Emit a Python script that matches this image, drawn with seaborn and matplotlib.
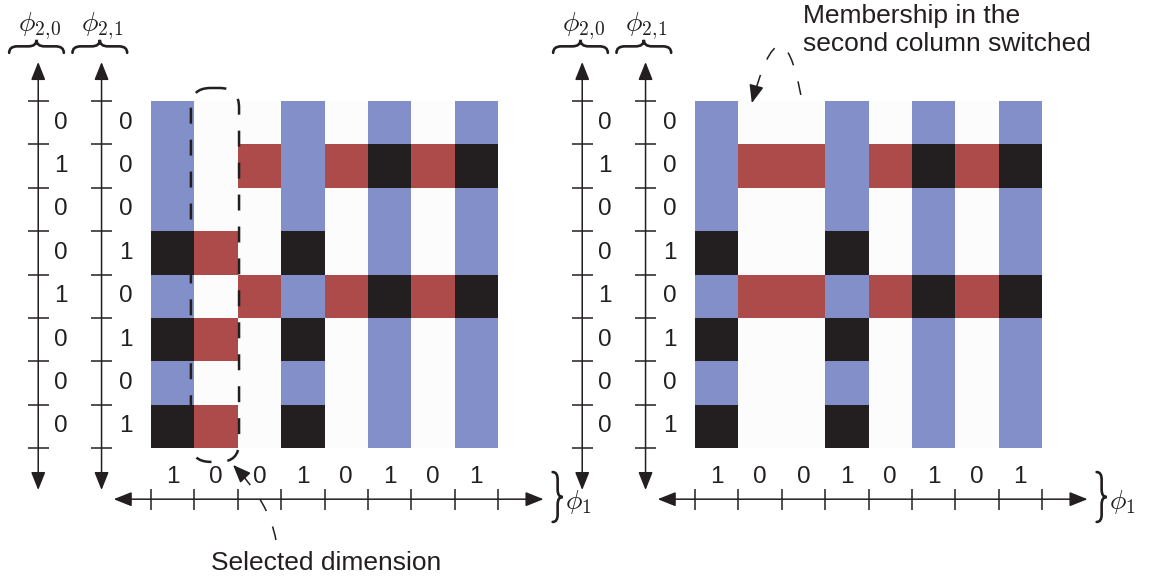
import numpy as np
import matplotlib
matplotlib.use('Agg')
import matplotlib.pyplot as plt
import seaborn as sns
from matplotlib.colors import ListedColormap
from matplotlib.patches import FancyArrowPatch, FancyBboxPatch, PathPatch
from matplotlib.path import Path

# labels along the axes
phi_1 = [1, 0, 0, 1, 0, 1, 0, 1]
phi_2_0 = [0, 1, 0, 0, 1, 0, 0, 0]
phi_2_1 = [0, 0, 0, 1, 0, 1, 0, 1]

# cell state: 0 = empty, 1 = column only, 2 = row only, 3 = both
grid_before = [
    [1, 0, 0, 1, 0, 1, 0, 1],
    [1, 0, 2, 1, 2, 3, 2, 3],
    [1, 0, 0, 1, 0, 1, 0, 1],
    [3, 2, 0, 3, 0, 1, 0, 1],
    [1, 0, 2, 1, 2, 3, 2, 3],
    [3, 2, 0, 3, 0, 1, 0, 1],
    [1, 0, 0, 1, 0, 1, 0, 1],
    [3, 2, 0, 3, 0, 1, 0, 1],
]
grid_after = [
    [1, 0, 0, 1, 0, 1, 0, 1],
    [1, 2, 2, 1, 2, 3, 2, 3],
    [1, 0, 0, 1, 0, 1, 0, 1],
    [3, 0, 0, 3, 0, 1, 0, 1],
    [1, 2, 2, 1, 2, 3, 2, 3],
    [3, 0, 0, 3, 0, 1, 0, 1],
    [1, 0, 0, 1, 0, 1, 0, 1],
    [3, 0, 0, 3, 0, 1, 0, 1],
]

cell_colors = ['#fcfcfc', '#828fc8', '#ad4a4a', '#231f20']
ink = '#231f20'

sns.set_style('white')
plt.rcParams['font.family'] = ['Liberation Sans', 'DejaVu Sans']
plt.rcParams['mathtext.fontset'] = 'cm'
plt.rcParams['lines.scale_dashes'] = False

fig = plt.figure(figsize=(11.49, 5.8), dpi=100)
ax_l = fig.add_axes([151 / 1149, 132 / 580, 347 / 1149, 347 / 580])
ax_r = fig.add_axes([695 / 1149, 132 / 580, 347 / 1149, 347 / 580])


def brace(ax, x, y, length, depth, horizontal):
    # curly brace, base midpoint at (x, y); tip up if horizontal, else tip right
    L, d = length, depth
    uv = [(-L / 2, 0), (-L / 2, d / 2), (-L / 2 + 0.15 * L, d / 2), (-0.15 * L, d / 2),
          (0, d / 2), (0, d), (0, d / 2), (0.15 * L, d / 2), (L / 2 - 0.15 * L, d / 2),
          (L / 2, d / 2), (L / 2, 0)]
    codes = [Path.MOVETO, Path.CURVE3, Path.CURVE3, Path.LINETO, Path.CURVE3, Path.CURVE3,
             Path.CURVE3, Path.CURVE3, Path.LINETO, Path.CURVE3, Path.CURVE3]
    if horizontal:
        verts = [(x + u, y - v) for u, v in uv]
    else:
        verts = [(x + v, y + u) for u, v in uv]
    ax.add_patch(PathPatch(Path(verts, codes), fill=False, ec=ink, lw=1.9,
                           capstyle='round', clip_on=False))


def curved_note(ax, p0, ctrl, tip):
    path = Path([p0, ctrl, tip], [Path.MOVETO, Path.CURVE3, Path.CURVE3])
    ax.add_patch(PathPatch(path, fill=False, ec=ink, lw=1.1,
                           linestyle=(0, (10, 12)), clip_on=False))
    d = np.array(tip) - np.array(ctrl)
    d = d / np.hypot(*d)
    start = np.array(tip) - 0.4 * d
    ax.add_patch(FancyArrowPatch(tuple(start), tip,
                                 arrowstyle='-|>,head_length=0.55,head_width=0.22',
                                 mutation_scale=20, lw=1.1, color=ink,
                                 shrinkA=0, shrinkB=0, clip_on=False))


def draw_panel(ax, grid):
    sns.heatmap(np.array(grid), ax=ax, cmap=ListedColormap(cell_colors), vmin=-0.5,
                vmax=3.5, cbar=False, square=True, xticklabels=False,
                yticklabels=False, linewidths=0)
    ax.set_axis_off()
    ax.set_xlim(0, 8)
    ax.set_ylim(8, 0)

    # vertical axes for phi_2,0 and phi_2,1
    for xa, xl, labels, name in [(-2.60, -2.07, phi_2_0, r'$\phi_{2,\!0}$'),
                                 (-1.14, -0.59, phi_2_1, r'$\phi_{2,\!1}$')]:
        ax.add_patch(FancyArrowPatch((xa, 8.97), (xa, -0.90),
                                     arrowstyle='<|-|>,head_length=0.55,head_width=0.22',
                                     mutation_scale=20, lw=1.1, color=ink,
                                     shrinkA=0, shrinkB=0, clip_on=False))
        ax.hlines(np.arange(9), xa - 0.24, xa + 0.24, colors=ink, lw=1.1, clip_on=False)
        for i, v in enumerate(labels):
            ax.text(xl, i + 0.5, str(v), ha='center', va='center', fontsize=17.5, color=ink)
        brace(ax, xa - 0.04, -1.11, 1.26, 0.30, True)
        ax.text(xa + 0.02, -1.72, name, ha='center', va='center', fontsize=20, color=ink)

    # horizontal axis for phi_1
    ya = 9.18
    ax.add_patch(FancyArrowPatch((-0.86, ya), (9.05, ya),
                                 arrowstyle='<|-|>,head_length=0.55,head_width=0.22',
                                 mutation_scale=20, lw=1.1, color=ink,
                                 shrinkA=0, shrinkB=0, clip_on=False))
    ax.vlines(np.arange(9), ya - 0.24, ya + 0.24, colors=ink, lw=1.1, clip_on=False)
    for j, v in enumerate(phi_1):
        ax.text(j + 0.5, 8.67, str(v), ha='center', va='center', fontsize=17.5, color=ink)
    brace(ax, 9.26, 9.13, 1.15, 0.23, False)
    ax.text(9.54, 9.24, r'$\phi_1$', ha='left', va='center', fontsize=20, color=ink)


draw_panel(ax_l, grid_before)
draw_panel(ax_r, grid_after)

# selected column in the left panel
ax_l.add_patch(FancyBboxPatch((0.92, -0.30), 1.11, 8.62,
                              boxstyle='round,pad=0,rounding_size=0.45', fill=False,
                              ec=ink, lw=1.8, linestyle=(0, (11.5, 11.5)), clip_on=False))
curved_note(ax_l, (2.88, 10.12), (2.73, 9.26), (1.89, 8.39))
ax_l.text(4.03, 10.65, 'Selected dimension', ha='center', va='center', fontsize=19,
          color=ink)

# switched column note in the right panel
curved_note(ax_r, (2.44, -0.14), (1.99, -2.49), (1.31, 0.05))
ax_r.text(2.49, -1.63, 'Membership in the\nsecond column switched', ha='left',
          va='center', fontsize=19, color=ink, linespacing=1.2)

fig.savefig('out.png', dpi=100)
